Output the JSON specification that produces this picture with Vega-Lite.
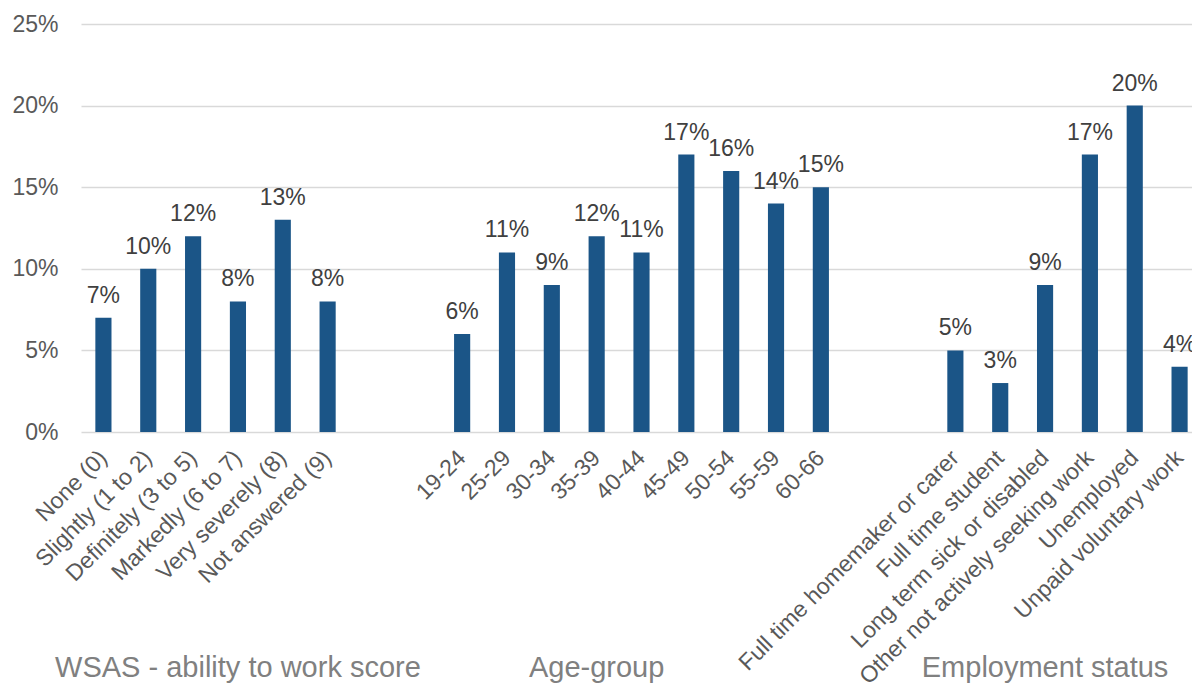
{
  "$schema": "https://vega.github.io/schema/vega-lite/v6.json",
  "width": 1111,
  "height": 408,
  "autosize": {"type": "none"},
  "padding": {"left": 81, "top": 24, "right": 0, "bottom": 263},
  "background": "white",
  "config": {
    "font": "Liberation Sans",
    "view": {"stroke": null}
  },
  "data": {
    "values": [
      {"cat": "None (0)", "group": "WSAS - ability to work score", "pct": 0.07},
      {"cat": "Slightly (1 to 2)", "group": "WSAS - ability to work score", "pct": 0.10},
      {"cat": "Definitely (3 to 5)", "group": "WSAS - ability to work score", "pct": 0.12},
      {"cat": "Markedly (6 to 7)", "group": "WSAS - ability to work score", "pct": 0.08},
      {"cat": "Very severely (8)", "group": "WSAS - ability to work score", "pct": 0.13},
      {"cat": "Not answered (9)", "group": "WSAS - ability to work score", "pct": 0.08},
      {"cat": "19-24", "group": "Age-group", "pct": 0.06},
      {"cat": "25-29", "group": "Age-group", "pct": 0.11},
      {"cat": "30-34", "group": "Age-group", "pct": 0.09},
      {"cat": "35-39", "group": "Age-group", "pct": 0.12},
      {"cat": "40-44", "group": "Age-group", "pct": 0.11},
      {"cat": "45-49", "group": "Age-group", "pct": 0.17},
      {"cat": "50-54", "group": "Age-group", "pct": 0.16},
      {"cat": "55-59", "group": "Age-group", "pct": 0.14},
      {"cat": "60-66", "group": "Age-group", "pct": 0.15},
      {"cat": "Full time homemaker or carer", "group": "Employment status", "pct": 0.05},
      {"cat": "Full time student", "group": "Employment status", "pct": 0.03},
      {"cat": "Long term sick or disabled", "group": "Employment status", "pct": 0.09},
      {"cat": "Other not actively seeking work", "group": "Employment status", "pct": 0.17},
      {"cat": "Unemployed", "group": "Employment status", "pct": 0.20},
      {"cat": "Unpaid voluntary work", "group": "Employment status", "pct": 0.04}
    ]
  },
  "encoding": {
    "x": {
      "field": "cat",
      "type": "nominal",
      "sort": null,
      "scale": {
        "domain": ["None (0)", "Slightly (1 to 2)", "Definitely (3 to 5)", "Markedly (6 to 7)", "Very severely (8)", "Not answered (9)", "gap1", "gap2", "19-24", "25-29", "30-34", "35-39", "40-44", "45-49", "50-54", "55-59", "60-66", "gap3", "gap4", "Full time homemaker or carer", "Full time student", "Long term sick or disabled", "Other not actively seeking work", "Unemployed", "Unpaid voluntary work"],
        "range": [0, 1121],
        "paddingInner": 0.64,
        "paddingOuter": 0.32
      }
    },
    "y": {
      "field": "pct",
      "type": "quantitative",
      "scale": {"domain": [0, 0.25], "nice": false},
      "axis": {
        "values": [0, 0.05, 0.1, 0.15, 0.2, 0.25],
        "format": ".0%",
        "title": null,
        "domain": false,
        "ticks": false,
        "labelFontSize": 23,
        "labelColor": "#595959",
        "labelPadding": 23,
        "gridColor": "#d9d9d9",
        "gridWidth": 1.5
      }
    }
  },
  "layer": [
    {
      "mark": {"type": "bar", "color": "#1B5587"},
      "encoding": {
        "x": {
          "field": "cat",
          "type": "nominal",
          "sort": null,
          "axis": {
            "title": null,
            "labelAngle": -45,
            "labelAlign": "right",
            "labelBaseline": "middle",
            "labelFontSize": 23,
            "labelColor": "#595959",
            "labelPadding": 22,
            "labelLimit": 0,
            "labelOverlap": false,
            "labelExpr": "indexof(datum.value, 'gap') == 0 ? '' : datum.value",
            "domain": false,
            "ticks": false,
            "grid": false
          }
        }
      }
    },
    {
      "mark": {"type": "text", "baseline": "alphabetic", "dy": -15, "fontSize": 23, "color": "#404040"},
      "encoding": {
        "text": {"field": "pct", "type": "quantitative", "format": ".0%"},
        "x": {
          "field": "cat",
          "type": "nominal",
          "sort": null,
          "axis": {
            "orient": "bottom",
            "title": null,
            "values": ["Markedly (6 to 7)", "35-39", "Long term sick or disabled"],
            "labelExpr": "datum.value == 'Markedly (6 to 7)' ? 'WSAS - ability to work score' : datum.value == '35-39' ? 'Age-group' : 'Employment status'",
            "labelAngle": 0,
            "labelAlign": "center",
            "labelBaseline": "alphabetic",
            "labelFontSize": 29,
            "labelColor": "#808080",
            "labelLimit": 0,
            "labelOverlap": false,
            "labelDx": 4,
            "offset": 224,
            "labelPadding": 20,
            "domain": false,
            "ticks": false,
            "grid": false
          }
        }
      }
    }
  ],
  "resolve": {"axis": {"x": "independent"}}
}
